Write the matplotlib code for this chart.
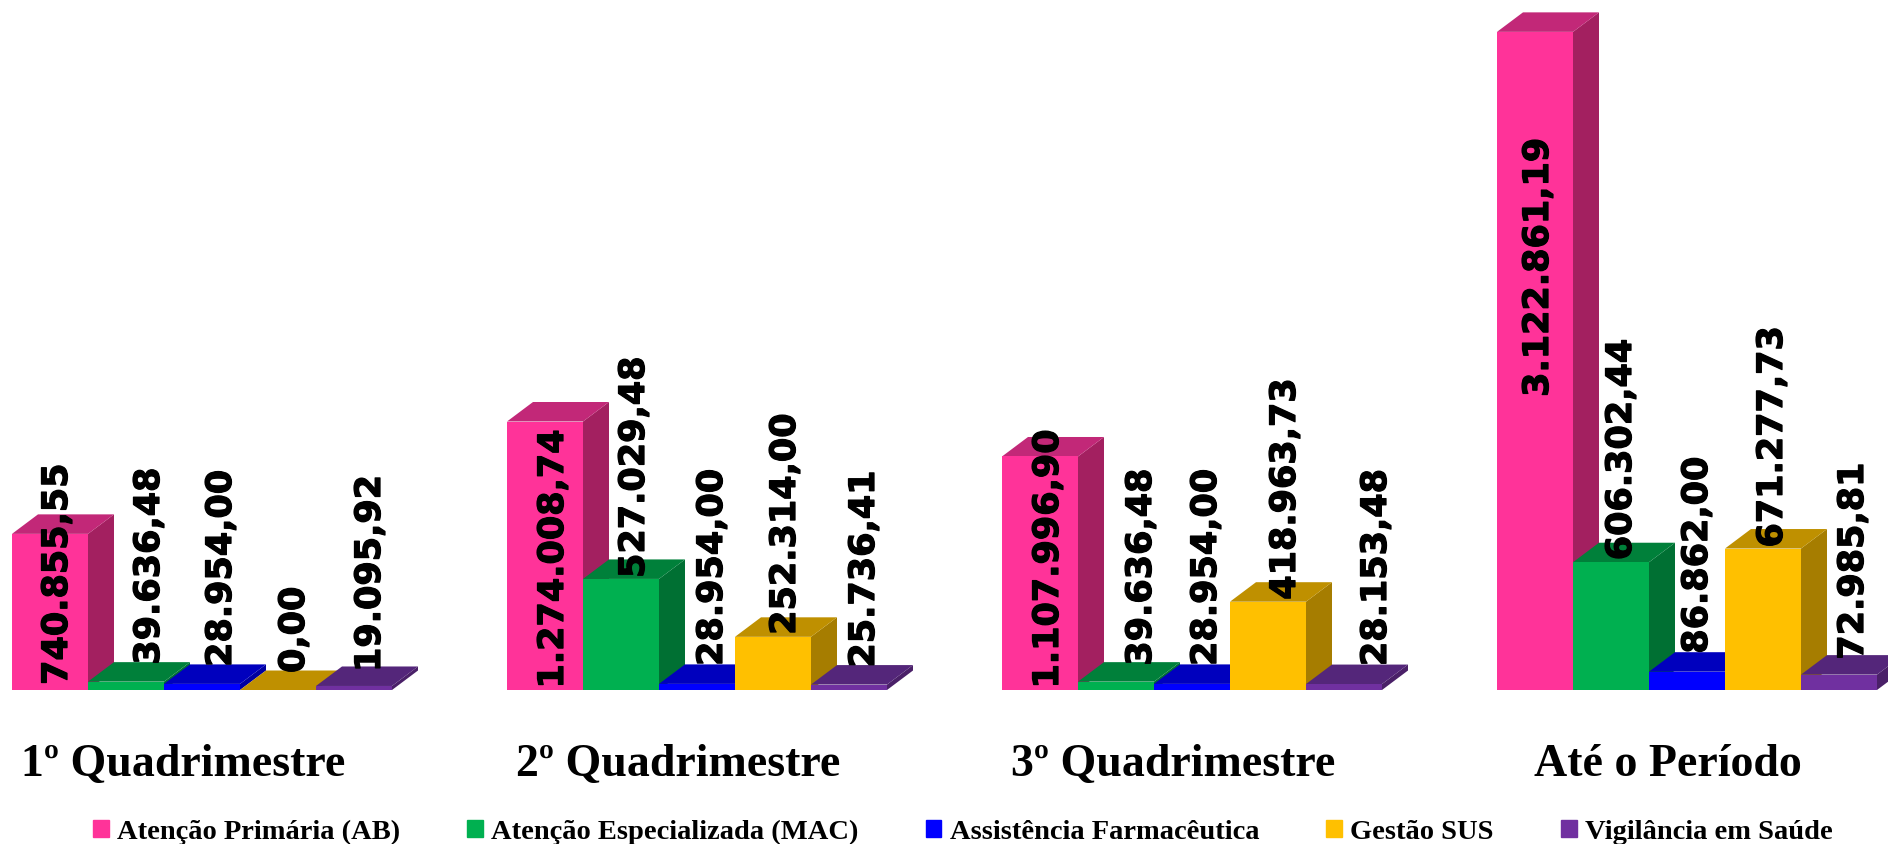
import matplotlib
matplotlib.use("Agg")
import matplotlib.pyplot as plt
import matplotlib.patheffects as pe
from matplotlib.patches import Patch

# data
periods = ["1º Quadrimestre", "2º Quadrimestre", "3º Quadrimestre", "Até o Período"]
subfuncoes = ["Atenção Primária (AB)", "Atenção Especializada (MAC)",
              "Assistência Farmacêutica", "Gestão SUS", "Vigilância em Saúde"]
atencao_primaria = [740855.55, 1274008.74, 1107996.90, 3122861.19]
atencao_especializada = [39636.48, 527029.48, 39636.48, 606302.44]
assistencia_farm = [28954.00, 28954.00, 28954.00, 86862.00]
gestao_sus = [0.00, 252314.00, 418963.73, 671277.73]
vigilancia = [19095.92, 25736.41, 28153.48, 72985.81]
series = [atencao_primaria, atencao_especializada, assistencia_farm, gestao_sus, vigilancia]

# front, top, side
front_colors = ["#FF3399", "#00B050", "#0000FF", "#FFC000", "#7030A0"]
top_colors = ["#C22878", "#00803A", "#0000BE", "#BF9000", "#54267A"]
side_colors = ["#A32060", "#007033", "#0000A0", "#A67D00", "#4A2068"]

# label offsets from the top of each bar, in pixels (series by period)
label_dx = [[7, 8, 8, 3], [23, 13, 25, 10], [19, 15, 14, 10], [16, 12, 17, 9], [16, 15, 32, 14]]
label_dy = [[-151, -267, -232, -365], [17, 1, 16, 2], [17, 18, 18, 18], [17, 2, 2, 1], [14, 17, 18, 15]]

W, H = 1888, 845
BAR_PX = 76
VALUE_PER_PX = 4745
BASE_PX = 691
GROUP_STEP = 495 / BAR_PX
DEPTH_X = 26 / BAR_PX
DEPTH_Y = 19.5 * VALUE_PER_PX

fig = plt.figure(figsize=(W / 100, H / 100), dpi=100)
ax = fig.add_axes([0, 0, 1, 1])
ax.set_xlim(-12 / BAR_PX, (W - 12) / BAR_PX)
ax.set_ylim(-(H - BASE_PX) * VALUE_PER_PX, BASE_PX * VALUE_PER_PX)
ax.set_xticks([])
ax.set_yticks([])
for s in ax.spines.values():
    s.set_visible(False)

for g in range(len(periods)):
    for i, values in enumerate(series):
        v = values[g]
        x0 = g * GROUP_STEP + i
        z = 2 + g * 10 + i
        ax.fill([x0 + 1, x0 + 1 + DEPTH_X, x0 + 1 + DEPTH_X, x0 + 1],
                [0, DEPTH_Y, v + DEPTH_Y, v], color=side_colors[i], lw=0, zorder=z)
        ax.fill([x0, x0 + DEPTH_X, x0 + 1 + DEPTH_X, x0 + 1],
                [v, v + DEPTH_Y, v + DEPTH_Y, v], color=top_colors[i], lw=0, zorder=z)
        ax.bar(x0, v, width=1, align="edge", color=front_colors[i], lw=0, zorder=z + 0.5)

for g in range(len(periods)):
    for i, values in enumerate(series):
        v = values[g]
        x0 = g * GROUP_STEP + i
        txt = f"{v:,.2f}".replace(",", "X").replace(".", ",").replace("X", ".")
        ax.annotate(txt, xy=(x0 + 0.5, v), xytext=(label_dx[i][g], label_dy[i][g]),
                    textcoords="offset pixels", rotation=90, ha="center", va="bottom",
                    fontsize=25.2, fontweight="bold", family="DejaVu Sans", color="black",
                    zorder=100, path_effects=[pe.withStroke(linewidth=0.9, foreground="black")])

# period names under each group
for g, lab in enumerate(periods):
    ax.annotate(lab, xy=(g * GROUP_STEP + 2.25, 0), xytext=(0, -74), textcoords="offset pixels",
                ha="center", va="center", fontsize=33, fontweight="bold",
                family="Liberation Serif")

handles = [Patch(color=c) for c in front_colors]
ax.legend(handles, subfuncoes, ncol=5, loc="center", bbox_to_anchor=(0.51, 0.0145),
          frameon=False, handlelength=0.55, handleheight=0.55, handletextpad=0.3,
          columnspacing=2.35, borderpad=0,
          prop={"family": "Liberation Serif", "weight": "bold", "size": 20.5})

fig.savefig("out.png", dpi=100)
